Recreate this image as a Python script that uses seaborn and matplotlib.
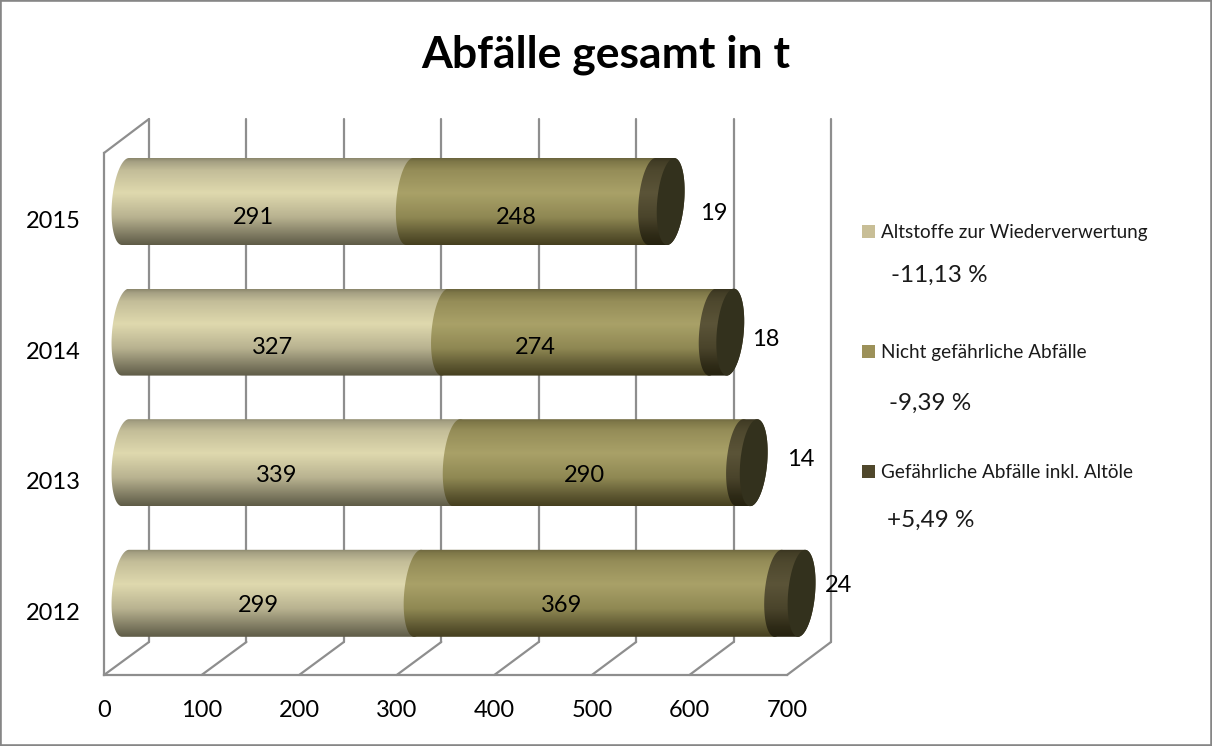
import numpy as np
import pandas as pd
import matplotlib
matplotlib.use("Agg")
import matplotlib.pyplot as plt
import seaborn as sns
from matplotlib.colors import LinearSegmentedColormap
from matplotlib.patches import ConnectionPatch, Patch, PathPatch, Polygon, Rectangle
from matplotlib.path import Path

# Waste quantities in tonnes per year
years = ["2015", "2014", "2013", "2012"]
altstoffe = [291, 327, 339, 299]
nicht_gefaehrlich = [248, 274, 290, 369]
gefaehrlich = [19, 18, 14, 24]
series_names = ["Altstoffe zur Wiederverwertung", "Nicht gefährliche Abfälle",
                "Gefährliche Abfälle inkl. Altöle"]
changes = ["-11,13 %", "-9,39 %", "+5,49 %"]
swatch_colors = ["#c8be96", "#9c9159", "#50482c"]
x_ticks = [0, 100, 200, 300, 400, 500, 600, 700]

W, H = 1212, 746
sns.set_theme(style="white")
plt.rcParams["font.family"] = ["Lato", "DejaVu Sans"]
GRID = "#8e8e8e"
TEXT = "#000000"

fig = plt.figure(figsize=(W / 100, H / 100), dpi=100, facecolor="white")


def box(left, top, right, bottom):
    """Axes rectangle from pixel edges measured from the top-left corner."""
    return [left / W, 1 - bottom / H, (right - left) / W, (bottom - top) / H]


def fig_xy(x, y):
    return x / W, 1 - y / H


fig.add_artist(Rectangle((0, 0), 1, 1, transform=fig.transFigure, fill=False,
                         ec="#868686", lw=2.6))

# Rear wall carrying the vertical grid
back = fig.add_axes(box(149, 119, 831, 642), facecolor="none", zorder=1)
back.set_xlim(0, 700)
back.set_ylim(3.5, -0.5)
back.set_xticks(x_ticks)
back.set_yticks([])
back.xaxis.grid(True, color=GRID, lw=1.6)
for line in back.get_xgridlines():
    line.set_clip_on(False)
back.tick_params(labelbottom=False, length=0)
sns.despine(ax=back, left=True, right=True, top=True, bottom=True)

# Front plane carrying the axis labels
front = fig.add_axes(box(104, 153, 787, 675), facecolor="none", zorder=2)
front.set_xlim(0, 700)
front.set_ylim(3.5, -0.5)
front.set_xticks(x_ticks)
front.set_yticks(np.arange(len(years)) + 0.01)
front.set_yticklabels(years)
front.tick_params(axis="x", length=0, pad=18, labelsize=17, labelcolor=TEXT)
front.tick_params(axis="y", length=0, pad=16.5, labelsize=17, labelcolor=TEXT)
sns.despine(ax=front, right=True, top=True)
for side in ("left", "bottom"):
    front.spines[side].set_color(GRID)
    front.spines[side].set_linewidth(1.6)

# Floor diagonals and the upper left edge joining the two planes
for tick in x_ticks:
    fig.add_artist(ConnectionPatch((tick, 3.5), (tick, 3.5), coordsA=front.transData,
                                   coordsB=back.transData, color=GRID, lw=1.6))
fig.add_artist(ConnectionPatch((0, -0.5), (0, -0.5), coordsA=front.transData,
                               coordsB=back.transData, color=GRID, lw=1.6))

# Cylinders
PX_PER_T = 0.977
ZERO_PX = 125.5
ROW_PX = 130.6
FIRST_ROW_PX = 201.5
ax = fig.add_axes([0, 0, 1, 1], facecolor="none", zorder=3)

cum1 = np.array(altstoffe)
cum2 = cum1 + np.array(nicht_gefaehrlich)
cum3 = cum2 + np.array(gefaehrlich)
for cumulative in (cum3, cum2, cum1):
    sns.barplot(data=pd.DataFrame({"year": years, "total": cumulative}), y="year",
                x="total", order=years, width=87 / ROW_PX, color="#999999", ax=ax)
ax.set_axis_off()

containers = {"s3": ax.containers[0], "s2": ax.containers[1], "s1": ax.containers[2]}
for c in ax.containers:
    for bar in c:
        bar.set_visible(False)

ramp_stops = [0.0, 0.04, 0.14, 0.40, 0.68, 0.88, 1.0]
ramps = [
    ["#8b876c", "#a5a083", "#c3bd98", "#dfd9ae", "#b8b290", "#7f7b62", "#5e5b47"],
    ["#6b653d", "#7e7748", "#958d58", "#a9a168", "#8f8853", "#5e5832", "#453f1f"],
    ["#37331e", "#423d26", "#4e482e", "#5b5438", "#4a442b", "#2f2b17", "#25220f"],
]
CAP = "#33311d"
RX = 13.5 / PX_PER_T
SKEW = 3.5 / PX_PER_T


def rim(center, yc, half, t0, t1):
    t = np.linspace(t0, t1, 60)
    return np.column_stack((center + RX * np.cos(t) + SKEW * np.sin(t), yc - half * np.sin(t)))


def draw_segment(start, stop, yc, half, ramp, z):
    verts = np.vstack((rim(start, yc, half, np.pi / 2, 3 * np.pi / 2),
                       rim(stop, yc, half, -np.pi / 2, np.pi / 2)))
    outline = PathPatch(Path(np.vstack((verts, verts[0])), closed=True), fc="none", ec="none",
                        transform=ax.transData)
    ax.add_patch(outline)
    cmap = LinearSegmentedColormap.from_list("cyl", list(zip(ramp_stops, ramp)))
    img = ax.imshow(np.linspace(0, 1, 256)[:, None], cmap=cmap, aspect="auto", origin="upper",
                    extent=(start - 2 * RX, stop + 2 * RX, yc + half, yc - half), zorder=z)
    img.set_clip_path(outline)


lows = [np.zeros(len(years)), cum1, cum2]
for idx, key in enumerate(("s1", "s2", "s3")):
    for row, bar in enumerate(containers[key]):
        yc = bar.get_y() + bar.get_height() / 2
        half = bar.get_height() / 2
        draw_segment(lows[idx][row], bar.get_width(), yc, half, ramps[idx], 3 + idx)
        if key == "s3":
            ax.add_patch(Polygon(rim(bar.get_width(), yc, half, 0, 2 * np.pi), closed=True,
                                 fc=CAP, ec="none", zorder=6))
ax.set_xlim(-ZERO_PX / PX_PER_T, (W - ZERO_PX) / PX_PER_T)
ax.set_ylim((H - FIRST_ROW_PX) / ROW_PX, -FIRST_ROW_PX / ROW_PX)

# Value labels
label_xy = [
    [(253, 217), (272, 347), (277, 476), (258, 606)],
    [(516, 217), (535, 347), (584, 476), (562, 606)],
    [(714, 214), (766, 339), (801, 460), (839, 586)],
]
for values, places in zip((altstoffe, nicht_gefaehrlich, gefaehrlich), label_xy):
    for value, (px, py) in zip(values, places):
        x, y = fig_xy(px, py)
        fig.text(x, y, str(value), ha="center", va="center", fontsize=17, color=TEXT, zorder=10)

# Title
x, y = fig_xy(606, 55)
fig.text(x, y, "Abfälle gesamt in t", ha="center", va="center", fontsize=32, fontweight="bold",
         color=TEXT, zorder=10)

# Legend with the percentage change beneath each entry
handles = [Patch(fc=c, ec="none") for c in swatch_colors]
fig.legend(handles, series_names, loc="upper left", bbox_to_anchor=fig_xy(862, 224), frameon=False,
           fontsize=13.6, labelcolor="#1a1a1a", handlelength=0.68, handleheight=0.68, handletextpad=0.3,
           labelspacing=5.45, borderpad=0, borderaxespad=0)
for text, (px, py) in zip(changes, [(939, 275), (930, 403), (931, 520)]):
    x, y = fig_xy(px, py)
    fig.text(x, y, text, ha="center", va="center", fontsize=17.5, color="#1a1a1a", zorder=10)

fig.savefig("out.png", dpi=100, facecolor="white")
